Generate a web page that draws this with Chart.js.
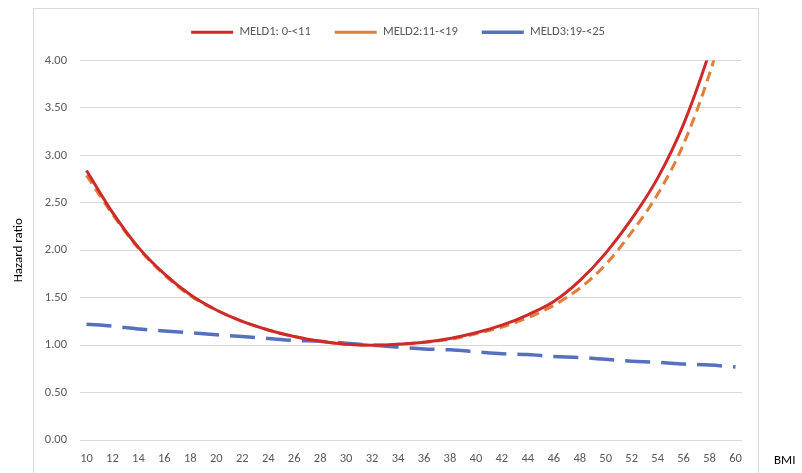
<!DOCTYPE html>
<html>
<head>
<meta charset="utf-8">
<script src="https://cdn.jsdelivr.net/npm/chart.js@4/dist/chart.umd.min.js"></script>
<style>
  html, body { margin: 0; padding: 0; background: #fff; }
  #wrap { width: 802px; height: 473px; position: relative; }
</style>
</head>
<body>
<div id="wrap"><canvas id="hrChart"></canvas></div>
<script>
// BMI values (also used as x tick labels)
const bmi = [10, 12, 14, 16, 18, 20, 22, 24, 26, 28, 30, 32, 34, 36, 38, 40, 42, 44, 46, 48, 50, 52, 54, 56, 58, 60];

// hazard ratios
const meld1 = [2.84, 2.40, 2.03, 1.75, 1.53, 1.37, 1.25, 1.16, 1.09, 1.04, 1.01, 1.00, 1.01, 1.03, 1.07, 1.13, 1.21, 1.32, 1.46, 1.68, 1.97, 2.33, 2.76, 3.33, 4.09, 5.00];
const meld2 = [2.79, 2.38, 2.02, 1.74, 1.52, 1.37, 1.25, 1.16, 1.09, 1.04, 1.01, 1.00, 1.01, 1.03, 1.06, 1.12, 1.19, 1.29, 1.42, 1.60, 1.85, 2.19, 2.59, 3.12, 3.86, 4.80];
const meld3 = [1.22, 1.20, 1.17, 1.15, 1.13, 1.11, 1.09, 1.07, 1.05, 1.04, 1.02, 1.00, 0.98, 0.96, 0.95, 0.93, 0.91, 0.90, 0.88, 0.87, 0.85, 0.83, 0.82, 0.80, 0.79, 0.77];

const seriesNames = ["MELD1: 0-<11", "MELD2:11-<19", "MELD3:19-<25"];

const FONT = "Carlito, Lato, 'Liberation Sans', sans-serif";
const toPoints = vals => vals.map((v, i) => ({ x: bmi[i], y: v }));

// frame + BMI label drawn by hand like the excel chart
const extras = {
  id: "extras",
  beforeUpdate(chart) {
    // push the plot down under the legend, and centre the legend on the canvas
    const lg = chart.legend;
    if (lg && !lg._patched) {
      lg._patched = true;
      const fit = lg.fit;
      lg.fit = function () { fit.call(this); this.height += 12; };
      const draw = lg.draw;
      lg.draw = function () {
        this.ctx.save();
        this.ctx.translate(27, 0);
        draw.call(this);
        this.ctx.restore();
      };
    }
  },
  beforeDraw(chart) {
    const ctx = chart.ctx;
    ctx.save();
    ctx.fillStyle = "#fff";
    ctx.fillRect(0, 0, chart.width, chart.height);
    ctx.strokeStyle = "#d9d9d9";
    ctx.lineWidth = 1;
    ctx.strokeRect(33.5, 8.5, 725, 500);
    ctx.restore();
  },
  afterDraw(chart) {
    const ctx = chart.ctx;
    ctx.save();
    ctx.fillStyle = "#000";
    ctx.font = "13px " + FONT;
    ctx.textBaseline = "middle";
    ctx.fillText("BMI", 774, 461);
    ctx.restore();
  }
};

const ctx = document.getElementById("hrChart").getContext("2d");
new Chart(ctx, {
  type: "line",
  data: {
    datasets: [
      {
        label: seriesNames[0],
        data: toPoints(meld1),
        borderColor: "#cf2a2a",
        backgroundColor: "#cf2a2a",
        borderWidth: 3,
        pointRadius: 0,
        cubicInterpolationMode: "monotone"
      },
      {
        label: seriesNames[1],
        data: toPoints(meld2),
        borderColor: "#e07e39",
        backgroundColor: "#e07e39",
        borderWidth: 3,
        borderDash: [10, 6],
        pointRadius: 0,
        cubicInterpolationMode: "monotone"
      },
      {
        label: seriesNames[2],
        data: toPoints(meld3),
        borderColor: "#5470bf",
        backgroundColor: "#5470bf",
        borderWidth: 3.5,
        borderDash: [25, 11],
        pointRadius: 0,
        cubicInterpolationMode: "monotone"
      }
    ]
  },
  options: {
    responsive: true,
    maintainAspectRatio: false,
    animation: false,
    layout: { padding: { top: 2, right: 60, bottom: 0, left: 0 } },
    plugins: {
      tooltip: { enabled: false },
      legend: {
        position: "top",
        align: "center",
        labels: {
          usePointStyle: true,
          pointStyleWidth: 42,
          boxHeight: 12,
          padding: 24,
          color: "#595959",
          font: { family: FONT, size: 12.5 },
          generateLabels(chart) {
            const items = Chart.defaults.plugins.legend.labels.generateLabels(chart);
            items.forEach(it => { it.pointStyle = "line"; });
            return items;
          }
        }
      }
    },
    scales: {
      x: {
        type: "linear",
        min: 9.5,
        max: 60.5,
        afterBuildTicks: scale => { scale.ticks = bmi.map(v => ({ value: v })); },
        afterFit: scale => { scale.height = 33; },
        grid: { display: false },
        border: { display: false },
        ticks: {
          color: "#595959",
          font: { family: FONT, size: 12.5 },
          padding: 3,
          maxRotation: 0,
          autoSkip: false
        }
      },
      y: {
        min: 0,
        max: 4,
        afterFit: scale => { scale.width = 80; },
        grid: { color: "#d9d9d9", lineWidth: 1, drawTicks: false },
        border: { display: false },
        ticks: {
          stepSize: 0.5,
          padding: 13,
          color: "#595959",
          font: { family: FONT, size: 12.5 },
          callback: v => v.toFixed(2)
        },
        title: {
          display: true,
          text: "Hazard ratio",
          color: "#000",
          font: { family: FONT, size: 13 },
          padding: { top: 11, bottom: 0 }
        }
      }
    }
  },
  plugins: [extras]
});
</script>
</body>
</html>
